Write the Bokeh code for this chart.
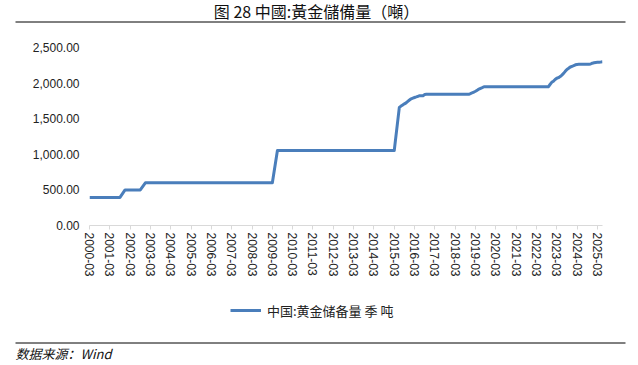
from bokeh.plotting import figure
from bokeh.layouts import column
from bokeh.models import (Range1d, FixedTicker, Legend, LegendItem, NumeralTickFormatter)
from bokeh.core.properties import value
from bokeh.embed import file_html
from bokeh.resources import INLINE

# ---- data (tonnes) ----
dates = ["2000-03", "2001-09", "2001-12", "2002-09", "2002-12", "2009-03", "2009-06", "2015-03",
         "2015-06", "2015-07", "2015-08", "2015-09", "2015-10", "2015-11", "2015-12",
         "2016-01", "2016-02", "2016-03", "2016-04", "2016-05", "2016-06", "2016-08", "2016-09", "2016-10",
         "2018-11", "2018-12", "2019-01", "2019-02", "2019-03", "2019-04", "2019-05", "2019-06",
         "2019-07", "2019-08",
         "2022-10", "2022-11", "2022-12", "2023-01", "2023-02", "2023-03", "2023-04", "2023-05",
         "2023-06", "2023-07", "2023-08", "2023-09", "2023-10", "2023-11", "2023-12",
         "2024-01", "2024-02", "2024-03", "2024-04",
         "2024-10", "2024-11", "2024-12", "2025-01", "2025-02", "2025-03", "2025-04", "2025-05", "2025-06"]
reserves = [395, 395, 500, 500, 600, 600, 1054, 1054,
            1658.1, 1677.3, 1693.2, 1708.7, 1722.5, 1743.0, 1762.3,
            1779.6, 1789.2, 1797.6, 1805.6, 1814.3, 1823.3, 1823.3, 1838.9, 1842.6,
            1842.6, 1852.5, 1864.3, 1874.3, 1885.5, 1900.4, 1916.0, 1926.6,
            1936.5, 1948.3,
            1948.3, 1980.3, 2010.5, 2025.4, 2050.3, 2068.0, 2076.4, 2092.0,
            2113.0, 2136.0, 2165.0, 2192.0, 2208.0, 2226.0, 2235.4,
            2245.3, 2257.1, 2262.4, 2264.3,
            2264.3, 2268.0, 2279.6, 2284.9, 2290.0, 2292.3, 2294.4, 2296.0, 2298.5]
tick_labels = ["2000-03", "2001-03", "2002-03", "2003-03", "2004-03", "2005-03", "2006-03",
               "2007-03", "2008-03", "2009-03", "2010-03", "2011-03", "2012-03", "2013-03",
               "2014-03", "2015-03", "2016-03", "2017-03", "2018-03", "2019-03", "2020-03",
               "2021-03", "2022-03", "2023-03", "2024-03", "2025-03"]
y_ticks = [0, 500, 1000, 1500, 2000, 2500]

title_text = "图 28 中國:黃金儲備量（噸）"
legend_text = "中国:黄金储备量 季 吨"
source_text = "数据来源：Wind"

LINE_COLOR = "#4a7ebb"
W = 638


def month_index(d):
    y, m = d.split("-")
    return (int(y) - 2000) * 12 + int(m) - 3


xs = [month_index(d) for d in dates]
tick_pos = [month_index(t) for t in tick_labels]


def blank(height):
    f = figure(width=W, height=height, output_backend="svg", toolbar_location=None,
               x_range=Range1d(0, W), y_range=Range1d(height, 0),
               x_axis_type=None, y_axis_type=None,
               min_border=0, min_border_left=0, min_border_right=0,
               min_border_top=0, min_border_bottom=0, frame_align=False)
    f.outline_line_color = None
    f.xgrid.visible = False
    f.ygrid.visible = False
    return f


# ---- header: title + rule ----
TOP_H = 26
top = blank(TOP_H)
top.text(x=[316], y=[10], text=[title_text], text_align="center", text_baseline="middle",
         text_font=value("Noto Sans CJK TC"), text_font_size="16px", text_color="#111111")
top.segment(x0=[15], y0=[21.5], x1=[625], y1=[21.5], line_color="black", line_width=1)

# ---- main chart ----
MAIN_H = 264
p = figure(width=W, height=MAIN_H, output_backend="svg", toolbar_location=None,
           x_range=Range1d(0, month_index("2025-06")), y_range=Range1d(0, 2500),
           min_border_left=89, min_border_right=36, min_border_top=21, min_border_bottom=65,
           frame_align=False)
p.outline_line_color = None
p.xgrid.grid_line_color = None
p.ygrid.grid_line_color = None

r = p.line(xs, reserves, line_color=LINE_COLOR, line_width=3, line_join="round")

p.yaxis.ticker = FixedTicker(ticks=y_ticks)
p.yaxis.formatter = NumeralTickFormatter(format="0,0.00")
p.yaxis.axis_line_color = None
p.yaxis.major_tick_line_color = None
p.yaxis.minor_tick_line_color = None
p.yaxis.major_tick_in = 0
p.yaxis.major_tick_out = 0
p.yaxis.major_label_standoff = 10
p.yaxis.major_label_text_font = "Liberation Sans"
p.yaxis.major_label_text_font_size = "12px"
p.yaxis.major_label_text_color = "#222222"

p.xaxis.ticker = FixedTicker(ticks=tick_pos)
p.xaxis.major_label_overrides = {pos: lab for pos, lab in zip(tick_pos, tick_labels)}
p.xaxis.major_label_orientation = "vertical"
p.xaxis.axis_line_color = "#d9d9d9"
p.xaxis.major_tick_line_color = "#d9d9d9"
p.xaxis.major_tick_in = 0
p.xaxis.major_tick_out = 4
p.xaxis.minor_tick_line_color = None
p.xaxis.major_label_standoff = 3
p.xaxis.major_label_text_font = "Liberation Sans"
p.xaxis.major_label_text_font_size = "12px"
p.xaxis.major_label_text_color = "#222222"

# ---- footer: legend + rule + source ----
BOT_H = 365 - TOP_H - MAIN_H
bot = blank(BOT_H)
sample = bot.line(x=[-50, -40], y=[-50, -50], line_color=LINE_COLOR, line_width=3)
legend = Legend(items=[LegendItem(label=legend_text, renderers=[sample])],
                location=(230, BOT_H - 30), orientation="horizontal",
                padding=0, margin=0, spacing=0, glyph_width=31, glyph_height=20,
                label_height=20, label_standoff=6, border_line_color=None,
                background_fill_alpha=0, label_text_font="Noto Sans CJK SC",
                label_text_font_size="13px", label_text_color="#222222")
bot.add_layout(legend)
bot.segment(x0=[15], y0=[52.5], x1=[625], y1=[52.5], line_color="black", line_width=1)
bot.text(x=[15], y=[63], text=[source_text], text_align="left", text_baseline="middle",
         text_font=value("Noto Sans CJK SC"), text_font_size="13px", text_font_style="italic",
         text_color="#111111")

layout = column(top, p, bot, spacing=0)
open("out.html", "w").write(file_html(layout, INLINE))
